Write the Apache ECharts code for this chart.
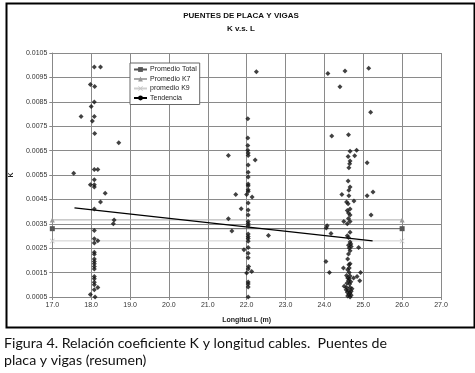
<!DOCTYPE html>
<html>
<head>
<meta charset="utf-8">
<script src="https://cdn.jsdelivr.net/npm/echarts@6/dist/echarts.min.js"></script>
<style>
html,body{margin:0;padding:0;background:#fff;}
#chart{width:475px;height:373px;}
</style>
</head>
<body>
<div id="chart"></div>
<script>
// ---- data ----
var titleLines = ['PUENTES DE PLACA Y VIGAS', 'K v.s. L'];
var xAxisName = 'Longitud L (m)';
var yAxisName = 'K';
var caption = ['Figura 4. Relación coeficiente K y longitud cables.  Puentes de', 'placa y vigas (resumen)'];
var xMin = 17, xMax = 27, xStep = 1;
var yMin = 0.0005, yMax = 0.0105, yStep = 0.001;

// points around L = 18 m
var cluster18 = [
  [18.08,0.00993],[18.24,0.00993],[17.98,0.00921],[18.09,0.00913],[18.08,0.00849],[18.00,0.00831],
  [17.74,0.0079],[18.08,0.0079],[18.03,0.00771],[18.09,0.0072],[18.71,0.00682],[18.08,0.00573],
  [18.17,0.00573],[17.55,0.00557],[18.08,0.00531],[17.98,0.0051],[18.08,0.0051],[18.08,0.00501],
  [18.36,0.00475],[18.24,0.00439],[18.08,0.00411],[18.59,0.00366],[18.57,0.0035],[18.08,0.00323],
  [18.08,0.00289],[18.17,0.00281],[18.08,0.00271],[18.08,0.00233],[18.08,0.00225],[18.08,0.00206],
  [18.08,0.00196],[18.08,0.00186],[18.08,0.00175],[18.08,0.00165],[18.08,0.00134],[18.08,0.00125],
  [18.08,0.0011],[18.08,0.001],[18.17,0.00089],[18.08,0.0008],[17.98,0.0006],[18.10,0.0005]
];
// points around L = 22 m
var cluster22 = [
  [22.03,0.00781],[22.03,0.00702],[22.03,0.00671],[22.03,0.00651],[22.04,0.0064],[22.04,0.0063],
  [21.53,0.0063],[22.22,0.00611],[22.04,0.00591],[22.04,0.00561],[22.04,0.00542],[22.04,0.00513],
  [22.04,0.00506],[22.04,0.0049],[22.04,0.00482],[21.72,0.0047],[22.00,0.0047],[22.14,0.0046],
  [22.04,0.00435],[21.86,0.00412],[22.04,0.00407],[22.04,0.00386],[21.53,0.00371],[22.04,0.00359],
  [22.04,0.0035],[22.04,0.00342],[21.62,0.0032],[22.56,0.00302],[22.04,0.00308],[22.04,0.00298],
  [22.04,0.0029],[22.04,0.00278],[22.04,0.00253],[21.93,0.00244],[22.04,0.00229],[22.04,0.00211],
  [22.05,0.00175],[22.04,0.00165],[22.00,0.00148],[22.13,0.00155],[22.04,0.00111],[22.04,0.00103],
  [22.04,0.00091],[22.04,0.0005],[22.25,0.00973]
];
// points around L = 24.6 m
var cluster246 = [
  [24.09,0.00966],[24.53,0.00976],[25.14,0.00987],[24.40,0.00912],[25.19,0.00807],[24.19,0.0071],
  [24.62,0.00715],[24.66,0.00647],[24.83,0.00651],[24.61,0.00626],[24.78,0.00629],[24.66,0.00607],
  [25.10,0.0060],[24.65,0.00596],[24.63,0.0058],[24.61,0.00525],[24.66,0.00501],[24.63,0.00487],
  [24.45,0.0047],[24.63,0.00465],[25.10,0.00465],[25.25,0.0048],[24.57,0.00439],[24.76,0.00443],
  [24.61,0.00432],[24.66,0.00411],[24.59,0.00405],[24.62,0.00394],[24.66,0.00386],[25.20,0.00386],
  [24.62,0.00372],[24.50,0.00359],[24.66,0.00359],[24.59,0.0035],[24.07,0.00342],[24.05,0.00333],
  [24.17,0.0031],[24.66,0.00315],[24.59,0.00301],[24.62,0.00294],[24.66,0.00275],[24.68,0.00267],
  [24.62,0.00262],[24.69,0.00257],[24.64,0.00251],[24.88,0.00253],[24.66,0.0024],[24.62,0.00226],
  [24.60,0.00206],[24.04,0.00196],[24.66,0.00186],[24.63,0.00182],[24.49,0.00169],[24.64,0.00169],
  [24.60,0.00162],[24.13,0.0015],[24.64,0.0015],[24.93,0.0015],[24.57,0.00138],[24.66,0.00136],
  [24.84,0.00134],[24.60,0.00128],[24.64,0.00125],[24.91,0.00117],[24.62,0.00117],[24.68,0.00112],
  [24.58,0.00106],[24.65,0.00103],[24.51,0.00094],[24.57,0.00089],[24.66,0.00089],[24.71,0.00084],
  [24.56,0.0008],[24.62,0.00077],[24.69,0.00074],[24.59,0.00069],[24.66,0.00066],[24.63,0.0006],
  [24.69,0.00057],[24.60,0.00054],[24.66,0.0005],[24.75,0.00128]
];
var promedioTotal = [[17,0.0033],[26,0.0033]];
var promedioK7 = [[17,0.00366],[26,0.00366]];
var promedioK9 = [[17,0.0028],[26,0.0028]];
var tendencia = [[17.57,0.00415],[25.24,0.0028]];
var legendNames = ['Promedio Total','Promedio K7','promedio K9','Tendencia'];

var chart = echarts.init(document.getElementById('chart'), null, {renderer:'canvas'});
var F = 'Liberation Sans, Arial, sans-serif';
var xPath = 'path://M0,1L1,0L5,4L9,0L10,1L6,5L10,9L9,10L5,6L1,10L0,9L4,5Z';

chart.setOption({
  backgroundColor: '#ffffff',
  animation: false,
  textStyle: {fontFamily: F},
  grid: {left: 47, top: 53, width: 394, height: 244, containLabel: false},
  legend: {
    data: legendNames,
    orient: 'vertical',
    left: 130, top: 63,
    itemWidth: 13, itemHeight: 6, itemGap: 2.5,
    padding: [3, 3, 3, 3],
    borderColor: '#666', borderWidth: 1, backgroundColor: '#fff',
    textStyle: {fontSize: 7, color: '#222', fontFamily: F, padding: [0,0,0,-2]},
    selectedMode: false
  },
  xAxis: {
    type: 'value', min: xMin, max: xMax, interval: xStep,
    name: xAxisName, nameLocation: 'middle', nameGap: 20,
    nameTextStyle: {fontSize: 7, fontWeight: 'bold', color: '#222', fontFamily: F},
    axisLine: {show: true, lineStyle: {color: '#888', width: 1}},
    axisTick: {show: true, length: 3, lineStyle: {color: '#888'}},
    axisLabel: {fontSize: 7, color: '#333', margin: 5, formatter: function(v){return v.toFixed(1);}},
    splitLine: {show: true, lineStyle: {color: '#8a8a8a', width: 1}}
  },
  yAxis: {
    type: 'value', min: yMin, max: yMax, interval: yStep,
    name: yAxisName, nameLocation: 'middle', nameGap: 31, nameRotate: 90,
    nameTextStyle: {fontSize: 7, fontWeight: 'bold', color: '#222', fontFamily: F},
    axisLine: {show: true, lineStyle: {color: '#888', width: 1}},
    axisTick: {show: true, length: 3, lineStyle: {color: '#888'}},
    axisLabel: {fontSize: 7, color: '#333', margin: 5, formatter: function(v){return v.toFixed(4);}},
    splitLine: {show: true, lineStyle: {color: '#8a8a8a', width: 1}}
  },
  series: [
    {
      name: 'Datos', type: 'scatter',
      data: cluster18.concat(cluster22, cluster246),
      symbol: 'diamond', symbolSize: [5, 5],
      itemStyle: {color: '#111'}, z: 5
    },
    {
      name: 'Promedio Total', type: 'line', data: promedioTotal,
      symbol: 'rect', symbolSize: 5, showSymbol: true,
      itemStyle: {color: '#555'}, lineStyle: {color: '#555', width: 1}, z: 3
    },
    {
      name: 'Promedio K7', type: 'line', data: promedioK7,
      symbol: 'triangle', symbolSize: 5, showSymbol: true,
      itemStyle: {color: '#999'}, lineStyle: {color: '#aaa', width: 1}, z: 3
    },
    {
      name: 'promedio K9', type: 'line', data: promedioK9,
      symbol: xPath, symbolSize: 5, showSymbol: true,
      itemStyle: {color: '#c4c4c4'}, lineStyle: {color: '#cfcfcf', width: 1}, z: 3
    },
    {
      name: 'Tendencia', type: 'line', data: tendencia,
      symbol: 'none', itemStyle: {color: '#000'},
      lineStyle: {color: '#000', width: 1.3}, z: 4
    }
  ],
  graphic: [
    {type: 'rect', left: 4, top: 1, z: 100, silent: true,
     shape: {width: 468, height: 324},
     style: {fill: 'none', stroke: '#000', lineWidth: 2}},
    {type: 'text', x: 241, y: 16, z: 100,
     style: {text: titleLines[0], font: 'bold 8px ' + F, fill: '#111', align: 'center', verticalAlign: 'middle'}},
    {type: 'text', x: 241, y: 29, z: 100,
     style: {text: titleLines[1], font: 'bold 8px ' + F, fill: '#111', align: 'center', verticalAlign: 'middle'}},
    {type: 'text', x: 4, y: 343, z: 100,
     style: {text: caption[0], font: '14.2px Lato, sans-serif', fill: '#111', align: 'left', verticalAlign: 'middle'}},
    {type: 'text', x: 4, y: 360, z: 100,
     style: {text: caption[1], font: '14.2px Lato, sans-serif', fill: '#111', align: 'left', verticalAlign: 'middle'}}
  ]
});
</script>
</body>
</html>
